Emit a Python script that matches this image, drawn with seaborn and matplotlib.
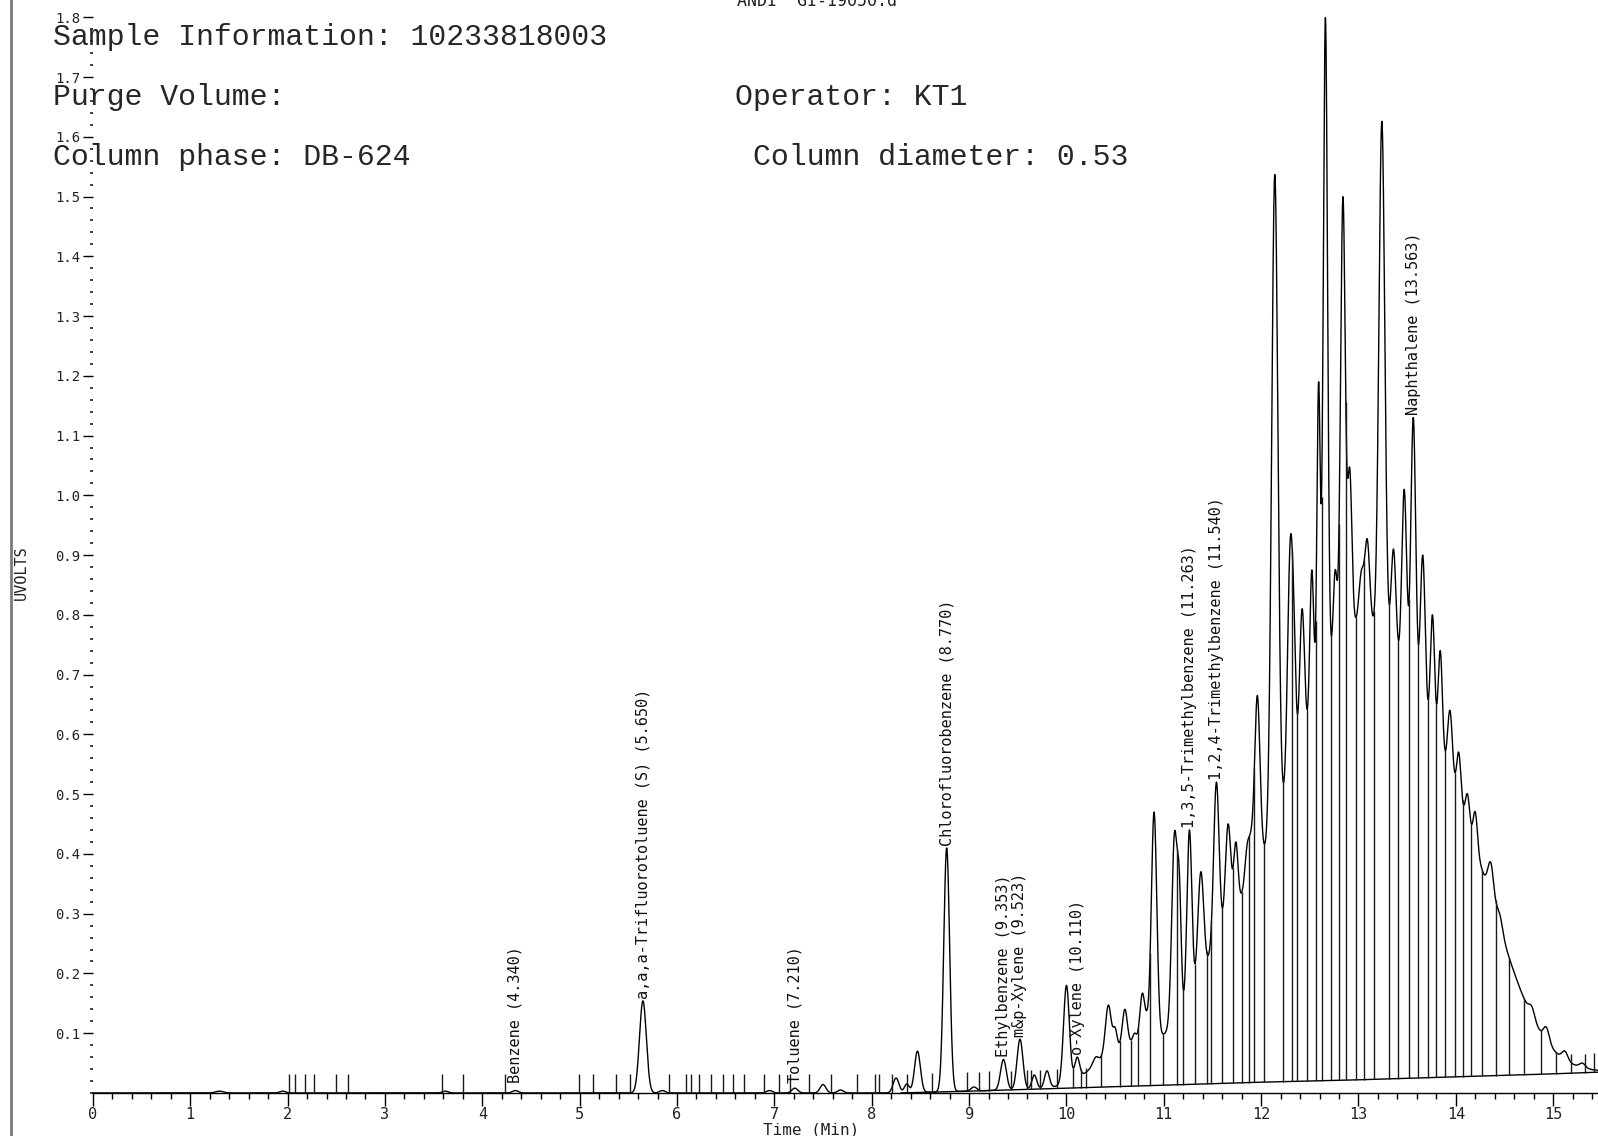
import numpy as np
import pandas as pd
import matplotlib
matplotlib.use("Agg")
import matplotlib.pyplot as plt
from matplotlib.lines import Line2D
from matplotlib.ticker import MultipleLocator, FixedLocator, FormatStrFormatter
import seaborn as sns

# ---- chromatogram peaks: retention time (min), apex height (uV), width (sigma, min)
peak_rt = [1.30, 1.95, 3.62, 4.340, 5.650, 5.85, 6.95, 7.210, 7.50, 7.68,
           8.25, 8.36, 8.47, 8.770, 9.05, 9.353, 9.523, 9.67, 9.80, 10.00,
           10.110, 10.30, 10.43, 10.50, 10.60, 10.70, 10.78, 10.83, 10.90,
           11.11, 11.16, 11.263, 11.38, 11.47, 11.540, 11.66, 11.74, 11.86,
           11.90, 11.96, 12.14, 12.30, 12.34, 12.42, 12.52, 12.59, 12.66,
           12.76, 12.84, 12.91, 13.03, 13.09, 13.24, 13.36, 13.47, 13.563,
           13.66, 13.76, 13.84, 13.94, 14.03, 14.12, 14.20, 14.36, 14.45,
           14.62, 14.78, 14.93, 15.12, 15.30]
peak_height = [0.003, 0.003, 0.003, 0.004, 0.154, 0.004, 0.004, 0.008, 0.014, 0.005,
               0.025, 0.015, 0.070, 0.410, 0.010, 0.056, 0.090, 0.030, 0.037, 0.180,
               0.060, 0.060, 0.147, 0.110, 0.140, 0.100, 0.167, 0.140, 0.470,
               0.437, 0.370, 0.440, 0.370, 0.240, 0.520, 0.450, 0.420, 0.420,
               0.445, 0.665, 1.537, 0.930, 0.800, 0.810, 0.875, 1.190, 1.800,
               0.875, 1.500, 1.046, 0.875, 0.927, 1.626, 0.910, 1.010, 1.130,
               0.900, 0.800, 0.740, 0.640, 0.570, 0.500, 0.470, 0.385, 0.300,
               0.190, 0.145, 0.110, 0.070, 0.050]
peak_sigma = [0.040, 0.030, 0.030, 0.030, 0.035, 0.030, 0.030, 0.030, 0.030, 0.030,
              0.030, 0.025, 0.030, 0.030, 0.030, 0.030, 0.030, 0.025, 0.025, 0.030,
              0.025, 0.030, 0.030, 0.020, 0.025, 0.020, 0.025, 0.020, 0.028,
              0.028, 0.020, 0.025, 0.030, 0.020, 0.028, 0.028, 0.022, 0.025,
              0.020, 0.028, 0.032, 0.028, 0.020, 0.025, 0.020, 0.017, 0.022,
              0.020, 0.024, 0.022, 0.025, 0.025, 0.030, 0.025, 0.025, 0.025,
              0.025, 0.022, 0.022, 0.025, 0.022, 0.022, 0.022, 0.030, 0.030,
              0.030, 0.030, 0.030, 0.030, 0.030]

# unresolved hump under the late-eluting envelope
hump_rt = [13.0, 11.7, 14.1, 10.6]
hump_height = [0.75, 0.18, 0.25, 0.06]
hump_sigma = [0.65, 0.45, 0.45, 0.30]

# integration baseline drift
drift_t = [0.0, 8.3, 9.0, 10.0, 11.0, 12.0, 13.0, 14.0, 15.0, 15.5]
drift_v = [0.0, 0.0, 0.003, 0.008, 0.013, 0.018, 0.022, 0.027, 0.032, 0.035]

# peak start / end markers
marker_times = [2.01, 2.08, 2.18, 2.27, 2.50, 2.62, 3.59, 3.80, 4.23, 4.99,
                5.14, 5.37, 5.52, 5.92, 6.09, 6.14, 6.23, 6.35, 6.47, 6.58,
                6.69, 6.89, 7.05, 7.16, 7.36, 7.58, 7.85, 8.03, 8.08, 8.21,
                8.36, 8.62, 8.98, 9.10, 9.20, 9.43, 9.60, 9.64, 9.73, 9.90,
                10.07, 10.15, 10.20, 10.36, 10.55, 10.66, 10.74, 10.86, 10.99,
                11.14, 11.20, 11.32, 11.44, 11.49, 11.60, 11.71, 11.80, 11.88,
                11.93, 12.03, 12.22, 12.32, 12.37, 12.47, 12.56, 12.62, 12.72,
                12.80, 12.87, 12.97, 13.06, 13.16, 13.31, 13.41, 13.52, 13.61,
                13.71, 13.80, 13.89, 13.99, 14.07, 14.16, 14.27, 14.41, 14.55,
                14.70, 14.87, 15.03, 15.18, 15.33, 15.42]

# identified compounds
compound_names = ["Benzene", "a,a,a-Trifluorotoluene (S)", "Toluene",
                  "Chlorofluorobenzene", "Ethylbenzene", "m&p-Xylene", "o-Xylene",
                  "1,3,5-Trimethylbenzene", "1,2,4-Trimethylbenzene", "Naphthalene"]
compound_rt = [4.340, 5.650, 7.210, 8.770, 9.353, 9.523, 10.110, 11.263, 11.540, 13.563]

header_left = ["Sample Information: 10233818003", "Purge Volume:", "Column phase: DB-624"]
header_right = ["Operator: KT1", "Column diameter: 0.53"]
file_name = "ANDI  GI-19050.d"


def gauss(t, c, s):
    return np.exp(-0.5 * ((t - c) / s) ** 2)


def background(t):
    t = np.asarray(t, dtype=float)
    out = np.interp(t, drift_t, drift_v)
    for c, hh, w in zip(hump_rt, hump_height, hump_sigma):
        out = out + hh * gauss(t, c, w)
    return out


rt = np.array(peak_rt)
hgt = np.array(peak_height)
sig = np.array(peak_sigma)

# peak amplitudes so that the summed trace reaches each apex height
bg_at_rt = background(rt)
K = gauss(rt[:, None], rt[None, :], sig[None, :])
amp = np.clip(hgt - bg_at_rt, 0, None)
for _ in range(400):
    for i in range(len(rt)):
        other = K[i] @ amp - amp[i]
        amp[i] = max(0.0, hgt[i] - bg_at_rt[i] - other)


def signal(t):
    t = np.asarray(t, dtype=float)
    out = background(t)
    for c, a, s in zip(rt, amp, sig):
        out = out + a * gauss(t, c, s)
    return out


x_max = 15.46
t_grid = np.linspace(0, x_max, 8000)
trace = pd.DataFrame({"Time (Min)": t_grid, "UVOLTS": signal(t_grid)})

sns.set_theme(style="white")
plt.rcParams["font.family"] = ["DejaVu Sans Mono", "DejaVu Sans"]

fig = plt.figure(figsize=(15.98, 11.36), dpi=100)
ax = fig.add_axes([0.0581, 0.0379, 0.9419, 0.9469])

sns.lineplot(data=trace, x="Time (Min)", y="UVOLTS", ax=ax, color="black",
             linewidth=1.0, estimator=None, sort=False, clip_on=False)

# integration baseline
bl_t = np.clip(np.array([t for t in drift_t if t >= 8.3]), 0, x_max)
ax.plot(bl_t, np.interp(bl_t, drift_t, drift_v), color="black", linewidth=1.0)

# marker / drop lines
mt = np.array(marker_times)
base_m = np.interp(mt, drift_t, drift_v)
top_m = np.maximum(signal(mt), base_m + 0.032)
ax.vlines(mt, base_m, top_m, colors="#1a1a1a", linewidth=1.0)

# compound labels
for name, c in zip(compound_names, compound_rt):
    y0 = max(float(signal(c)), 0.012) + 0.004
    ax.text(c, y0, f"{name} ({c:.3f})", rotation=90, ha="center", va="bottom",
            fontsize=11, color="#111111", family="DejaVu Sans Mono")

ax.set_xlim(0, x_max)
ax.set_ylim(0, 1.8)
ax.set_xlabel("")
ax.set_ylabel("")

ax.xaxis.set_major_locator(MultipleLocator(1))
ax.xaxis.set_minor_locator(MultipleLocator(0.2))
ax.yaxis.set_major_locator(FixedLocator(np.round(np.arange(0.1, 1.81, 0.1), 1)))
ax.yaxis.set_minor_locator(MultipleLocator(0.02))
ax.yaxis.set_major_formatter(FormatStrFormatter("%.1f"))

ax.tick_params(axis="x", which="major", direction="out", length=9, width=1.0,
               color="black", labelsize=11, labelcolor="#222222", pad=1, bottom=True)
ax.tick_params(axis="x", which="minor", direction="out", length=4, width=1.0,
               color="black", bottom=True)
ax.tick_params(axis="y", which="major", direction="out", length=7, width=1.0,
               color="black", labelsize=10, labelcolor="#222222", pad=2, left=True)
ax.tick_params(axis="y", which="minor", direction="out", length=2.5, width=1.3,
               color="#333333", left=True)

for side in ["top", "right", "left"]:
    ax.spines[side].set_visible(False)
ax.spines["bottom"].set_color("black")
ax.spines["bottom"].set_linewidth(1.0)
ax.set_facecolor("white")
ax.grid(False)

# page text
hx, rx = 0.0332, [0.460, 0.4712]
hy = [0.9677, 0.9148, 0.8618]
for txt, y in zip(header_left, hy):
    fig.text(hx, y, txt, family="Liberation Mono", fontsize=21.5, va="center", ha="left")
for txt, x, y in zip(header_right, rx, hy[1:]):
    fig.text(x, y, txt, family="Liberation Mono", fontsize=21.5, va="center", ha="left")

fig.text(0.511, 1 - 1 / 1136, file_name, ha="center", va="center", fontsize=12,
         color="#222222")
fig.text(0.0134, 0.4956, "UVOLTS", rotation=90, ha="center", va="center",
         fontsize=11, color="#222222")
fig.text(0.5075, 0.0055, "Time (Min)", ha="center", va="center", fontsize=11.5,
         color="#222222")

fig.add_artist(Line2D([0.0067, 0.0067], [0, 1], transform=fig.transFigure,
                      color="#7a7a7a", linewidth=2.0))

fig.savefig("out.png", dpi=100, facecolor="white")
